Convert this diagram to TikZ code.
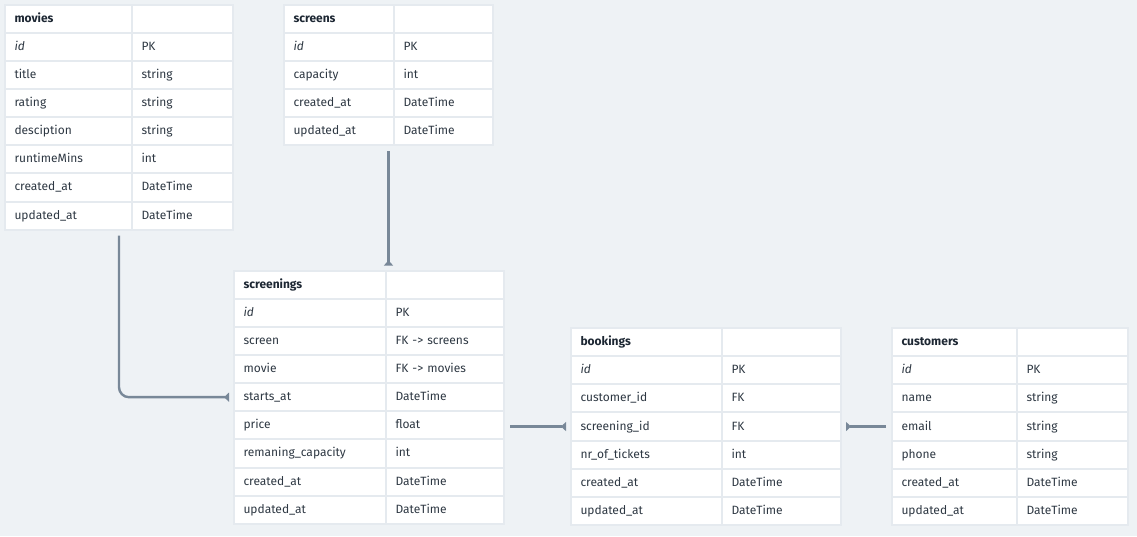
\documentclass[tikz,border=0pt]{standalone}
\usepackage{fontspec}
\setmainfont{Fira Sans}
\usepackage{tikz}
\usetikzlibrary{arrows.meta,calc}

\definecolor{bgcol}{HTML}{EEF2F5}
\definecolor{sepcol}{HTML}{E5EAEF}
\definecolor{linkcol}{HTML}{788898}
\definecolor{txtcol}{HTML}{2E3843}
\definecolor{headcol}{HTML}{1D2733}

\begin{document}
\begin{tikzpicture}[x=1pt, y=-1pt,
		every node/.style={font=\fontsize{12}{14}\selectfont, text=txtcol},
		cell/.style={draw=sepcol, line width=2pt, fill=white, anchor=north west, align=left,
			outer sep=0pt, inner xsep=9.5pt, inner ysep=0pt, minimum height=28.15pt,
			text height=9pt, text depth=2pt},
		head/.style={cell, font=\fontsize{12}{14}\selectfont\bfseries, text=headcol},
		link/.style={draw=linkcol, line width=2.4pt, -{Triangle[reversed,length=5pt,width=9pt]},
			shorten >=5pt, shorten <=6pt}]
		
		\fill[bgcol] (0,0) rectangle (1137,536);
		\useasboundingbox (0,0) rectangle (1137,536);
		
		%---------------- MOVIES ----------------
		\begin{scope}[shift={(5,4.5)}]
			\node[head, text width=108pt] (movies-h-a) at (0,0) {movies};
			\node[head, text width=82pt] (movies-h-b) at (127,0) {};
			\foreach \F/\T [count=\i] in {\textit{id}/PK, title/string, rating/string, desciption/string,
				runtimeMins/int, created\_at/DateTime, updated\_at/DateTime} {
				\node[cell, text width=108pt] (movies-\i-a) at (0,\i*28.15) {\F};
				\node[cell, text width=82pt] (movies-\i-b) at (127,\i*28.15) {\T};
			}
		\end{scope}
		
		%---------------- SCREENS ----------------
		\begin{scope}[shift={(284,4.5)}]
			\node[head, text width=91pt] (screens-h-a) at (0,0) {screens};
			\node[head, text width=80pt] (screens-h-b) at (110,0) {};
			\foreach \F/\T [count=\i] in {\textit{id}/PK, capacity/int, created\_at/DateTime, updated\_at/DateTime} {
				\node[cell, text width=91pt] (screens-\i-a) at (0,\i*28.15) {\F};
				\node[cell, text width=80pt] (screens-\i-b) at (110,\i*28.15) {\T};
			}
		\end{scope}
		
		%---------------- SCREENINGS ----------------
		\begin{scope}[shift={(234,270.5)}]
			\node[head, text width=133pt] (screenings-h-a) at (0,0) {screenings};
			\node[head, text width=99pt] (screenings-h-b) at (152,0) {};
			\foreach \F/\T [count=\i] in {\textit{id}/PK, screen/FK -> screens, movie/FK -> movies,
				starts\_at/DateTime, price/float, remaning\_capacity/int, created\_at/DateTime, updated\_at/DateTime} {
				\node[cell, text width=133pt] (screenings-\i-a) at (0,\i*28.15) {\F};
				\node[cell, text width=99pt] (screenings-\i-b) at (152,\i*28.15) {\T};
			}
		\end{scope}
		
		%---------------- BOOKINGS ----------------
		\begin{scope}[shift={(571,328)}]
			\node[head, text width=132pt] (bookings-h-a) at (0,0) {bookings};
			\node[head, text width=100pt] (bookings-h-b) at (151,0) {};
			\foreach \F/\T [count=\i] in {\textit{id}/PK, customer\_id/FK, screening\_id/FK,
				nr\_of\_tickets/int, created\_at/DateTime, updated\_at/DateTime} {
				\node[cell, text width=132pt] (bookings-\i-a) at (0,\i*28.15) {\F};
				\node[cell, text width=100pt] (bookings-\i-b) at (151,\i*28.15) {\T};
			}
		\end{scope}
		
		%---------------- CUSTOMERS ----------------
		\begin{scope}[shift={(892,328)}]
			\node[head, text width=106pt] (customers-h-a) at (0,0) {customers};
			\node[head, text width=92pt] (customers-h-b) at (125,0) {};
			\foreach \F/\T [count=\i] in {\textit{id}/PK, name/string, email/string, phone/string,
				created\_at/DateTime, updated\_at/DateTime} {
				\node[cell, text width=106pt] (customers-\i-a) at (0,\i*28.15) {\F};
				\node[cell, text width=92pt] (customers-\i-b) at (125,\i*28.15) {\T};
			}
		\end{scope}
		
		%---------------- LINKS ----------------
		% movies -> screenings.starts_at
		\coordinate (movies-bot) at ($(movies-7-a.south west)!0.5!(movies-7-b.south east)$);
		\draw[link, rounded corners=10pt] (movies-bot) |- (screenings-4-a.west);
		% screens -> screenings
		\coordinate (screens-bot) at ($(screens-4-a.south west)!0.5!(screens-4-b.south east)$);
		\draw[link] (screens-bot) -- (screens-bot |- screenings-h-a.north);
		% screenings.price -> bookings.screening_id
		\draw[link] (bookings-3-a.west -| screenings-5-b.east) -- (bookings-3-a.west);
		% customers.email -> bookings
		\draw[link] (customers-3-a.west) -- (customers-3-a.west -| bookings-3-b.east);
	\end{tikzpicture}
\end{document}
